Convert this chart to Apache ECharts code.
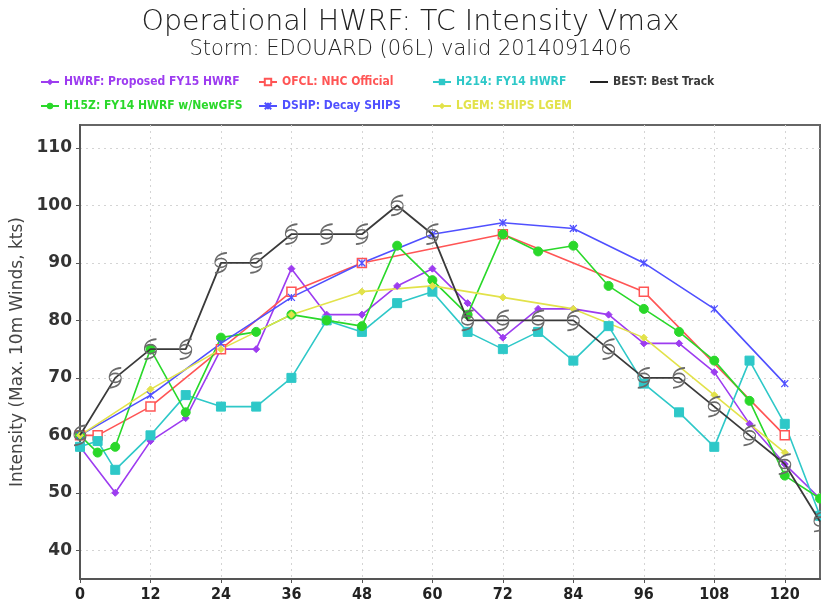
<!DOCTYPE html>
<html>
<head>
<meta charset="utf-8">
<script src="https://cdn.jsdelivr.net/npm/echarts@6/dist/echarts.min.js"></script>
<style>html,body{margin:0;padding:0;background:#fff}#c{width:821px;height:606px}</style>
</head>
<body>
<div id="c"></div>
<script>
const yTicks = [40, 50, 60, 70, 80, 90, 100, 110];
const xTickLabels = [0, 12, 24, 36, 48, 60, 72, 84, 96, 108, 120];

const hwrfHours = [0, 6, 12, 18, 24, 30, 36, 42, 48, 54, 60, 66, 72, 78, 84, 90, 96, 102, 108, 114, 120, 126];
const hwrfVals  = [58, 50, 59, 63, 75, 75, 89, 81, 81, 86, 89, 83, 77, 82, 82, 81, 76, 76, 71, 62, 55, 49];

const ofclHours = [0, 3, 12, 24, 36, 48, 72, 96, 120];
const ofclVals  = [60, 60, 65, 75, 85, 90, 95, 85, 60];

const h214Hours = [0, 3, 6, 12, 18, 24, 30, 36, 42, 48, 54, 60, 66, 72, 78, 84, 90, 96, 102, 108, 114, 120, 126];
const h214Vals  = [58, 59, 54, 60, 67, 65, 65, 70, 80, 78, 83, 85, 78, 75, 78, 73, 79, 69, 64, 58, 73, 62, 46];

const bestHours = [0, 6, 12, 18, 24, 30, 36, 42, 48, 54, 60, 66, 72, 78, 84, 90, 96, 102, 108, 114, 120, 126];
const bestVals  = [60, 70, 75, 75, 90, 90, 95, 95, 95, 100, 95, 80, 80, 80, 80, 75, 70, 70, 65, 60, 55, 45];

const h15zHours = [0, 3, 6, 12, 18, 24, 30, 36, 42, 48, 54, 60, 66, 72, 78, 84, 90, 96, 102, 108, 114, 120, 126];
const h15zVals  = [60, 57, 58, 75, 64, 77, 78, 81, 80, 79, 93, 87, 81, 95, 92, 93, 86, 82, 78, 73, 66, 53, 49];

const dshpHours = [0, 12, 24, 36, 48, 60, 72, 84, 96, 108, 120];
const dshpVals  = [60, 67, 76, 84, 90, 95, 97, 96, 90, 82, 69];

const lgemHours = [0, 12, 24, 36, 48, 60, 72, 84, 96, 108, 120];
const lgemVals  = [60, 68, 75, 81, 85, 86, 84, 82, 77, 67, 57];

const names = {
  hwrf: 'HWRF: Proposed FY15 HWRF',
  ofcl: 'OFCL: NHC Official',
  h214: 'H214: FY14 HWRF',
  best: 'BEST: Best Track',
  h15z: 'H15Z: FY14 HWRF w/NewGFS',
  dshp: 'DSHP: Decay SHIPS',
  lgem: 'LGEM: SHIPS LGEM'
};
const colors = {
  hwrf: '#9d3cf0', ofcl: '#ff5555', h214: '#2ec8c8', best: '#3a3a3a',
  h15z: '#2ad82a', dshp: '#5050ff', lgem: '#e2e24a'
};

function pairs(h, v) { return h.map((x, i) => [x, v[i]]); }

const hurricane = 'path://M10,10 A4,4 0 1,1 2,10 A4,4 0 1,1 10,10 Z M2,10 C2,4 5,1.5 10,1 M10,10 C10,16 7,18.5 2,19';
const cross = 'path://M0,0 L10,10 M10,0 L0,10 M5,0 L5,10';

function mkSeries(key, h, v, symbol, size, hollow, extra) {
  const c = colors[key];
  return Object.assign({
    name: names[key], type: 'line', data: pairs(h, v),
    symbol: symbol, symbolSize: size, showAllSymbol: true,
    lineStyle: { color: c, width: 1.6 },
    itemStyle: hollow ? { color: '#fff', borderColor: c, borderWidth: 1.5 } : { color: c, borderColor: c },
    emphasis: { disabled: true }, animation: false, z: 2
  }, extra || {});
}

const series = [
  mkSeries('hwrf', hwrfHours, hwrfVals, 'diamond', 7, false),
  mkSeries('ofcl', ofclHours, ofclVals, 'rect', 9, true),
  mkSeries('h214', h214Hours, h214Vals, 'rect', 9, false),
  mkSeries('h15z', h15zHours, h15zVals, 'circle', 9, false),
  mkSeries('dshp', dshpHours, dshpVals, cross, 7, true, { itemStyle: { color: 'rgba(0,0,0,0)', borderColor: colors.dshp, borderWidth: 1.3 } }),
  mkSeries('lgem', lgemHours, lgemVals, 'diamond', 7, false),
  mkSeries('best', bestHours, bestVals, hurricane, [12, 20], false, {
    itemStyle: { color: 'rgba(0,0,0,0)', borderColor: '#6a6a6a', borderWidth: 1.3 },
    lineStyle: { color: colors.best, width: 1.8 }, z: 3
  })
];

const legendFont = "'Liberation Sans Narrow', 'DejaVu Sans Condensed', sans-serif";
function mkLegend(key, left, top, line) {
  const l = {
    data: [{ name: names[key], textStyle: { color: colors[key] } }],
    left: left, top: top, itemWidth: 18, itemHeight: 8, itemGap: 4,
    textStyle: { fontFamily: legendFont, fontSize: 12, fontWeight: 'bold' },
    selectedMode: false, padding: 0
  };
  if (line) {
    l.data[0].icon = 'rect';
    l.data[0].itemStyle = { color: '#222', borderWidth: 0 };
    l.itemHeight = 2;
  }
  return l;
}

const option = {
  backgroundColor: '#fff',
  animation: false,
  title: [
    { text: 'Operational HWRF: TC Intensity Vmax', left: 'center', top: 3,
      textStyle: { fontFamily: 'DejaVu Sans', fontSize: 28.5, fontWeight: 200, color: '#222' } },
    { text: 'Storm: EDOUARD (06L) valid 2014091406', left: 'center', top: 34,
      textStyle: { fontFamily: 'DejaVu Sans', fontSize: 21, fontWeight: 200, color: '#222' } }
  ],
  legend: [
    mkLegend('hwrf', 40, 76),
    mkLegend('ofcl', 258, 76),
    mkLegend('h214', 432, 76),
    mkLegend('best', 590, 76, true),
    mkLegend('h15z', 40, 100),
    mkLegend('dshp', 258, 100),
    mkLegend('lgem', 432, 100)
  ],
  grid: { left: 80, right: 1, top: 125, bottom: 27, show: true, borderColor: '#666', borderWidth: 2, backgroundColor: '#fff' },
  xAxis: {
    type: 'value', min: 0, max: 126, interval: 12,
    axisLine: { lineStyle: { color: '#555', width: 2 } },
    axisTick: { show: true, length: 4, customValues: xTickLabels, lineStyle: { color: '#555' } },
    axisLabel: { color: '#222', fontSize: 16, fontWeight: 'bold', margin: 8,
      fontFamily: "'Liberation Sans Narrow', 'DejaVu Sans Condensed', sans-serif",
      customValues: xTickLabels },
    splitLine: { show: true, lineStyle: { color: '#d4d4d4', type: [2, 4], width: 1 } }
  },
  yAxis: {
    type: 'value', min: 35, max: 114,
    name: 'Intensity (Max. 10m Winds, kts)', nameLocation: 'middle', nameGap: 47, nameRotate: 90,
    nameTextStyle: { fontFamily: 'DejaVu Sans', fontSize: 17, color: '#444' },
    axisLine: { show: true, lineStyle: { color: '#555', width: 2 } },
    axisTick: { show: true, length: 4, customValues: yTicks, lineStyle: { color: '#555' } },
    axisLabel: { customValues: yTicks, color: '#333', fontSize: 17, fontWeight: 'bold', margin: 8,
      fontFamily: "'DejaVu Sans', sans-serif" },
    splitLine: { show: true, customValues: yTicks, lineStyle: { color: '#d4d4d4', type: [2, 4], width: 1 } }
  },
  series: series
};

const chart = echarts.init(document.getElementById('c'), null, { renderer: 'canvas' });
chart.setOption(option);
</script>
</body>
</html>
